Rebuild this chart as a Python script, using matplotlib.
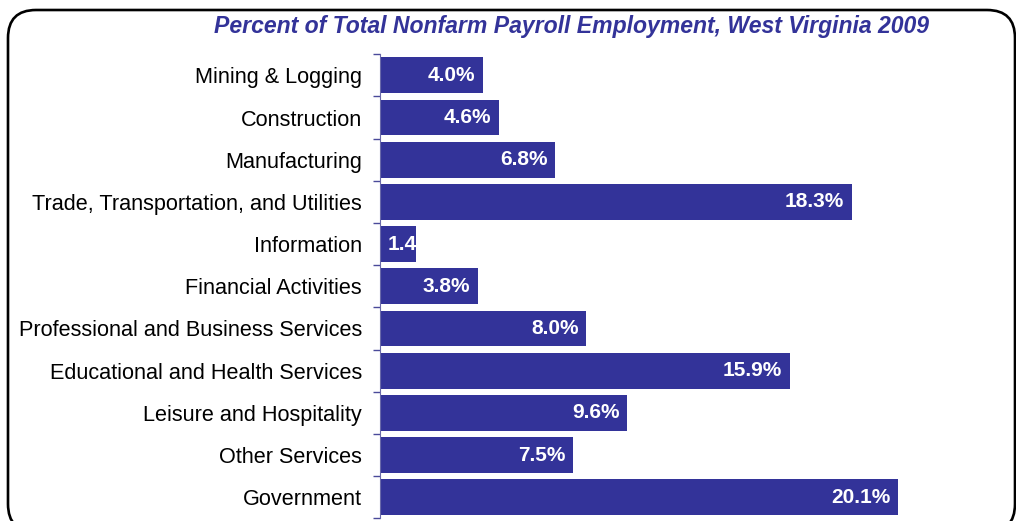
import matplotlib.pyplot as plt
from matplotlib.patches import FancyBboxPatch
from matplotlib.ticker import FixedLocator, NullLocator

categories = ["Mining & Logging", "Construction", "Manufacturing",
              "Trade, Transportation, and Utilities", "Information",
              "Financial Activities", "Professional and Business Services",
              "Educational and Health Services", "Leisure and Hospitality",
              "Other Services", "Government"]
shares = [4.0, 4.6, 6.8, 18.3, 1.4, 3.8, 8.0, 15.9, 9.6, 7.5, 20.1]
title = "Percent of Total Nonfarm Payroll Employment, West Virginia 2009"

bar_color = "#333399"
plt.rcParams['font.family'] = ['Liberation Sans', 'DejaVu Sans']

fig = plt.figure(figsize=(10.16, 5.21), dpi=100)

# rounded frame drawn in pixel coordinates (bottom edge runs off the image)
bg = fig.add_axes([0, 0, 1, 1], zorder=-1)
bg.set_xlim(0, 1016)
bg.set_ylim(521, 0)
bg.axis('off')
bg.add_patch(FancyBboxPatch((8, 10), 1007, 522,
                            boxstyle="round,pad=0,rounding_size=28",
                            fc="white", ec="black", lw=1.9, clip_on=False))

ax = fig.add_axes([380 / 1016, 1 - 518.3 / 521, 618.5 / 1016, 464 / 521])
ypos = list(range(len(categories)))
bars = ax.barh(ypos, shares, height=0.85, color=bar_color, zorder=2)
ax.set_xlim(0, 24)
ax.set_ylim(len(categories) - 0.5, -0.5)

ax.set_yticks(ypos)
ax.set_yticklabels(categories, fontsize=15.6)
ax.yaxis.set_minor_locator(FixedLocator([i - 0.5 for i in range(len(categories) + 1)]))
ax.tick_params(axis='y', which='major', length=0, pad=13)
ax.tick_params(axis='y', which='minor', length=5, color="#4a4a9a", width=1)
ax.xaxis.set_major_locator(NullLocator())
for side in ['top', 'right', 'bottom']:
    ax.spines[side].set_visible(False)
ax.spines['left'].set_color("#6a6aaa")
ax.patch.set_visible(False)

for bar, v in zip(bars, shares):
    y = bar.get_y() + bar.get_height() / 2
    if v < 2:
        t = ax.text(0.3, y, f"{v:.1f}%", ha='left', va='center', color='white',
                    fontsize=15, fontweight='bold', zorder=3)
        t.set_clip_path(bar)
    else:
        ax.text(v - 0.3, y, f"{v:.1f}%", ha='right', va='center', color='white',
                fontsize=15, fontweight='bold', zorder=3)

fig.text(571 / 1016, 1 - 27 / 521, title, ha='center', va='center',
         fontsize=16.6, fontweight='bold', fontstyle='italic', color=bar_color)

plt.savefig('out.png', dpi=100)
